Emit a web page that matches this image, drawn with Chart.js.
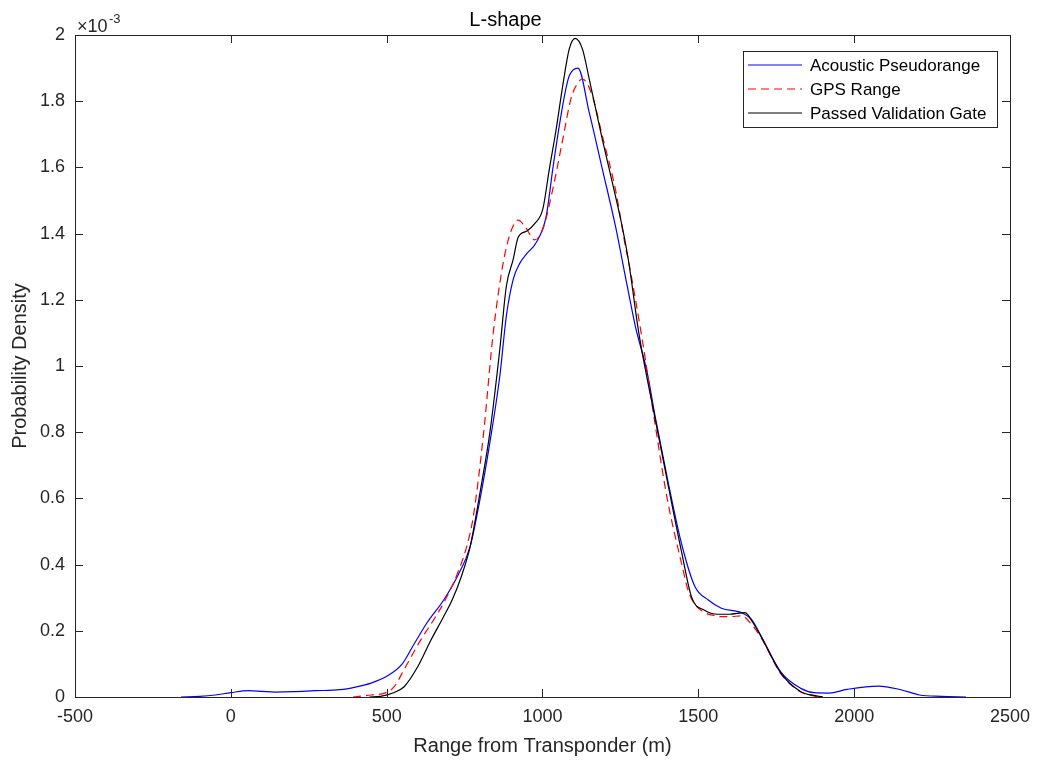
<!DOCTYPE html>
<html>
<head>
<meta charset="utf-8">
<title>L-shape</title>
<script src="https://cdn.jsdelivr.net/npm/chart.js@4.4.1/dist/chart.umd.min.js"></script>
<style>
    html, body { margin: 0; padding: 0; background: #fff; }
    #wrap { width: 1039px; height: 761px; position: relative; }
</style>
</head>
<body>
<div id="wrap"><canvas id="chartOne"></canvas></div>
<script>
// values, density in units of 1e-3
let seriesNames = ['Acoustic Pseudorange', 'GPS Range', 'Passed Validation Gate'];

let xAcoustic = [-160,-100,-50,0,57,100,142,200,270,350,400,450,503,550,588,630,683,730,768,800,831,863,884,906,927,950,980,1012,1033,1054,1075,1086,1114,1150,1192,1234,1272,1298,1336,1362,1404,1447,1489,1532,1574,1638,1670,1701,1765,1829,1871,1920,1977,2078,2150,2210,2280,2359];
let yAcoustic = [0,0.002,0.006,0.013,0.019,0.017,0.015,0.016,0.019,0.022,0.03,0.042,0.064,0.1,0.16,0.225,0.293,0.37,0.455,0.6,0.768,0.969,1.151,1.262,1.31,1.34,1.373,1.453,1.595,1.726,1.837,1.877,1.9,1.766,1.595,1.423,1.241,1.12,0.98,0.845,0.645,0.46,0.334,0.293,0.268,0.255,0.235,0.185,0.075,0.026,0.013,0.012,0.023,0.033,0.022,0.006,0.002,0];

let xGps = [392,450,500,524,560,609,650,688,730,757,778,810,842,874,900,922,945,975,1001,1033,1065,1091,1110,1128,1160,1192,1234,1266,1277,1320,1362,1400,1447,1468,1489,1520,1542,1570,1600,1640,1670,1701,1765,1829,1870,1892];
let yGps = [0,0.006,0.014,0.031,0.09,0.172,0.232,0.293,0.38,0.455,0.545,0.788,1.1,1.312,1.41,1.441,1.42,1.381,1.413,1.534,1.685,1.806,1.85,1.867,1.816,1.695,1.534,1.362,1.312,1.08,0.82,0.6,0.4,0.32,0.28,0.255,0.248,0.243,0.243,0.245,0.22,0.18,0.07,0.015,0.003,0];

let xGate = [445,480,520,556,600,641,680,710,740,768,800,831,863,884,906,922,950,975,1001,1022,1044,1065,1086,1105,1128,1150,1192,1234,1256,1277,1309,1362,1404,1447,1479,1520,1563,1600,1650,1675,1701,1765,1829,1882,1900];
let yGate = [0,0.002,0.012,0.031,0.092,0.17,0.238,0.293,0.365,0.455,0.62,0.798,1.05,1.241,1.322,1.389,1.408,1.43,1.474,1.595,1.716,1.847,1.958,1.99,1.958,1.867,1.685,1.514,1.42,1.312,1.1,0.838,0.636,0.435,0.3,0.262,0.25,0.25,0.255,0.225,0.183,0.072,0.016,0.003,0];

let xTicks = [-500, 0, 500, 1000, 1500, 2000, 2500];
let yTicks = [0, 0.2, 0.4, 0.6, 0.8, 1, 1.2, 1.4, 1.6, 1.8, 2];

let axisColor = '#262626';
let fontName = '"Liberation Sans", Arial, Helvetica, sans-serif';

function toPoints(xs, ys) {
    return xs.map((x, i) => ({ x: x, y: ys[i] }));
}

// box, inward ticks, exponent and legend like MATLAB
const matlabAxes = {
    id: 'matlabAxes',
    afterDraw(chart) {
        const ctx = chart.ctx;
        const a = chart.chartArea;
        const xs = chart.scales.x;
        const ys = chart.scales.y;
        ctx.save();
        ctx.strokeStyle = axisColor;
        ctx.lineWidth = 1;
        ctx.strokeRect(Math.round(a.left) + 0.5, Math.round(a.top) + 0.5,
            Math.round(a.right - a.left), Math.round(a.bottom - a.top));
        ctx.beginPath();
        xTicks.forEach(v => {
            const px = Math.round(xs.getPixelForValue(v)) + 0.5;
            ctx.moveTo(px, a.bottom); ctx.lineTo(px, a.bottom - 8);
            ctx.moveTo(px, a.top); ctx.lineTo(px, a.top + 8);
        });
        yTicks.forEach(v => {
            const py = Math.round(ys.getPixelForValue(v)) + 0.5;
            ctx.moveTo(a.left, py); ctx.lineTo(a.left + 8, py);
            ctx.moveTo(a.right, py); ctx.lineTo(a.right - 8, py);
        });
        ctx.stroke();

        // exponent label
        ctx.fillStyle = axisColor;
        ctx.textBaseline = 'alphabetic';
        ctx.textAlign = 'left';
        ctx.font = '18px ' + fontName;
        ctx.fillText('\u00d710', 77, 32);
        ctx.font = '13px ' + fontName;
        ctx.fillText('-3', 109, 23);

        // legend
        const lx = 743.5, ly = 51.5, lw = 254, lh = 76;
        ctx.fillStyle = '#fff';
        ctx.fillRect(lx, ly, lw, lh);
        ctx.strokeStyle = axisColor;
        ctx.strokeRect(lx, ly, lw, lh);
        const rows = [65, 89, 113];
        chart.data.datasets.forEach((ds, i) => {
            ctx.strokeStyle = ds.borderColor;
            ctx.lineWidth = ds.borderWidth;
            ctx.setLineDash(ds.borderDash || []);
            ctx.beginPath();
            ctx.moveTo(748, rows[i]);
            ctx.lineTo(802, rows[i]);
            ctx.stroke();
            ctx.setLineDash([]);
            ctx.fillStyle = '#000';
            ctx.font = '17px ' + fontName;
            ctx.textBaseline = 'middle';
            ctx.fillText(ds.label, 810, rows[i] + 1);
        });
        ctx.restore();
    }
};

var ctxOne = document.getElementById('chartOne').getContext('2d');
var chartOne = new Chart(ctxOne, {
    type: 'line',
    data: {
        datasets: [{
            label: seriesNames[0],
            data: toPoints(xAcoustic, yAcoustic),
            borderColor: '#0000ff',
            borderWidth: 1.2,
            order: 2
        }, {
            label: seriesNames[1],
            data: toPoints(xGps, yGps),
            borderColor: '#ff0000',
            borderWidth: 1.2,
            borderDash: [8, 5],
            order: 1
        }, {
            label: seriesNames[2],
            data: toPoints(xGate, yGate),
            borderColor: '#000000',
            borderWidth: 1.2,
            order: 0
        }]
    },
    options: {
        responsive: true,
        maintainAspectRatio: false,
        animation: false,
        layout: { padding: { left: 0, right: 28, top: 0, bottom: 0 } },
        elements: {
            point: { radius: 0 },
            line: { cubicInterpolationMode: 'monotone', fill: false }
        },
        plugins: {
            legend: { display: false },
            tooltip: { enabled: false },
            title: {
                display: true,
                text: 'L-shape',
                color: '#000',
                font: { family: fontName, size: 20, weight: 'normal' },
                padding: { top: 8, bottom: 3 }
            }
        },
        scales: {
            x: {
                type: 'linear',
                min: -500,
                max: 2500,
                afterFit: s => { s.height = 64; },
                afterBuildTicks: s => { s.ticks = xTicks.map(v => ({ value: v })); },
                ticks: {
                    color: axisColor,
                    padding: 9,
                    maxRotation: 0,
                    font: { family: fontName, size: 18 },
                    callback: v => String(v)
                },
                grid: { display: false, drawTicks: false },
                border: { display: true, color: axisColor, width: 1 },
                title: {
                    display: true,
                    text: 'Range from Transponder (m)',
                    color: axisColor,
                    font: { family: fontName, size: 20 },
                    padding: { top: 0, bottom: 3 }
                }
            },
            y: {
                min: 0,
                max: 2,
                afterFit: s => { s.width = 75; },
                afterBuildTicks: s => { s.ticks = yTicks.map(v => ({ value: v })); },
                ticks: {
                    color: axisColor,
                    padding: 10,
                    font: { family: fontName, size: 18 },
                    callback: v => String(v)
                },
                grid: { display: false, drawTicks: false },
                border: { display: true, color: axisColor, width: 1 },
                title: {
                    display: true,
                    text: 'Probability Density',
                    color: axisColor,
                    font: { family: fontName, size: 20 },
                    padding: { top: 8, bottom: 0 }
                }
            }
        }
    },
    plugins: [matlabAxes]
});
</script>
</body>
</html>
